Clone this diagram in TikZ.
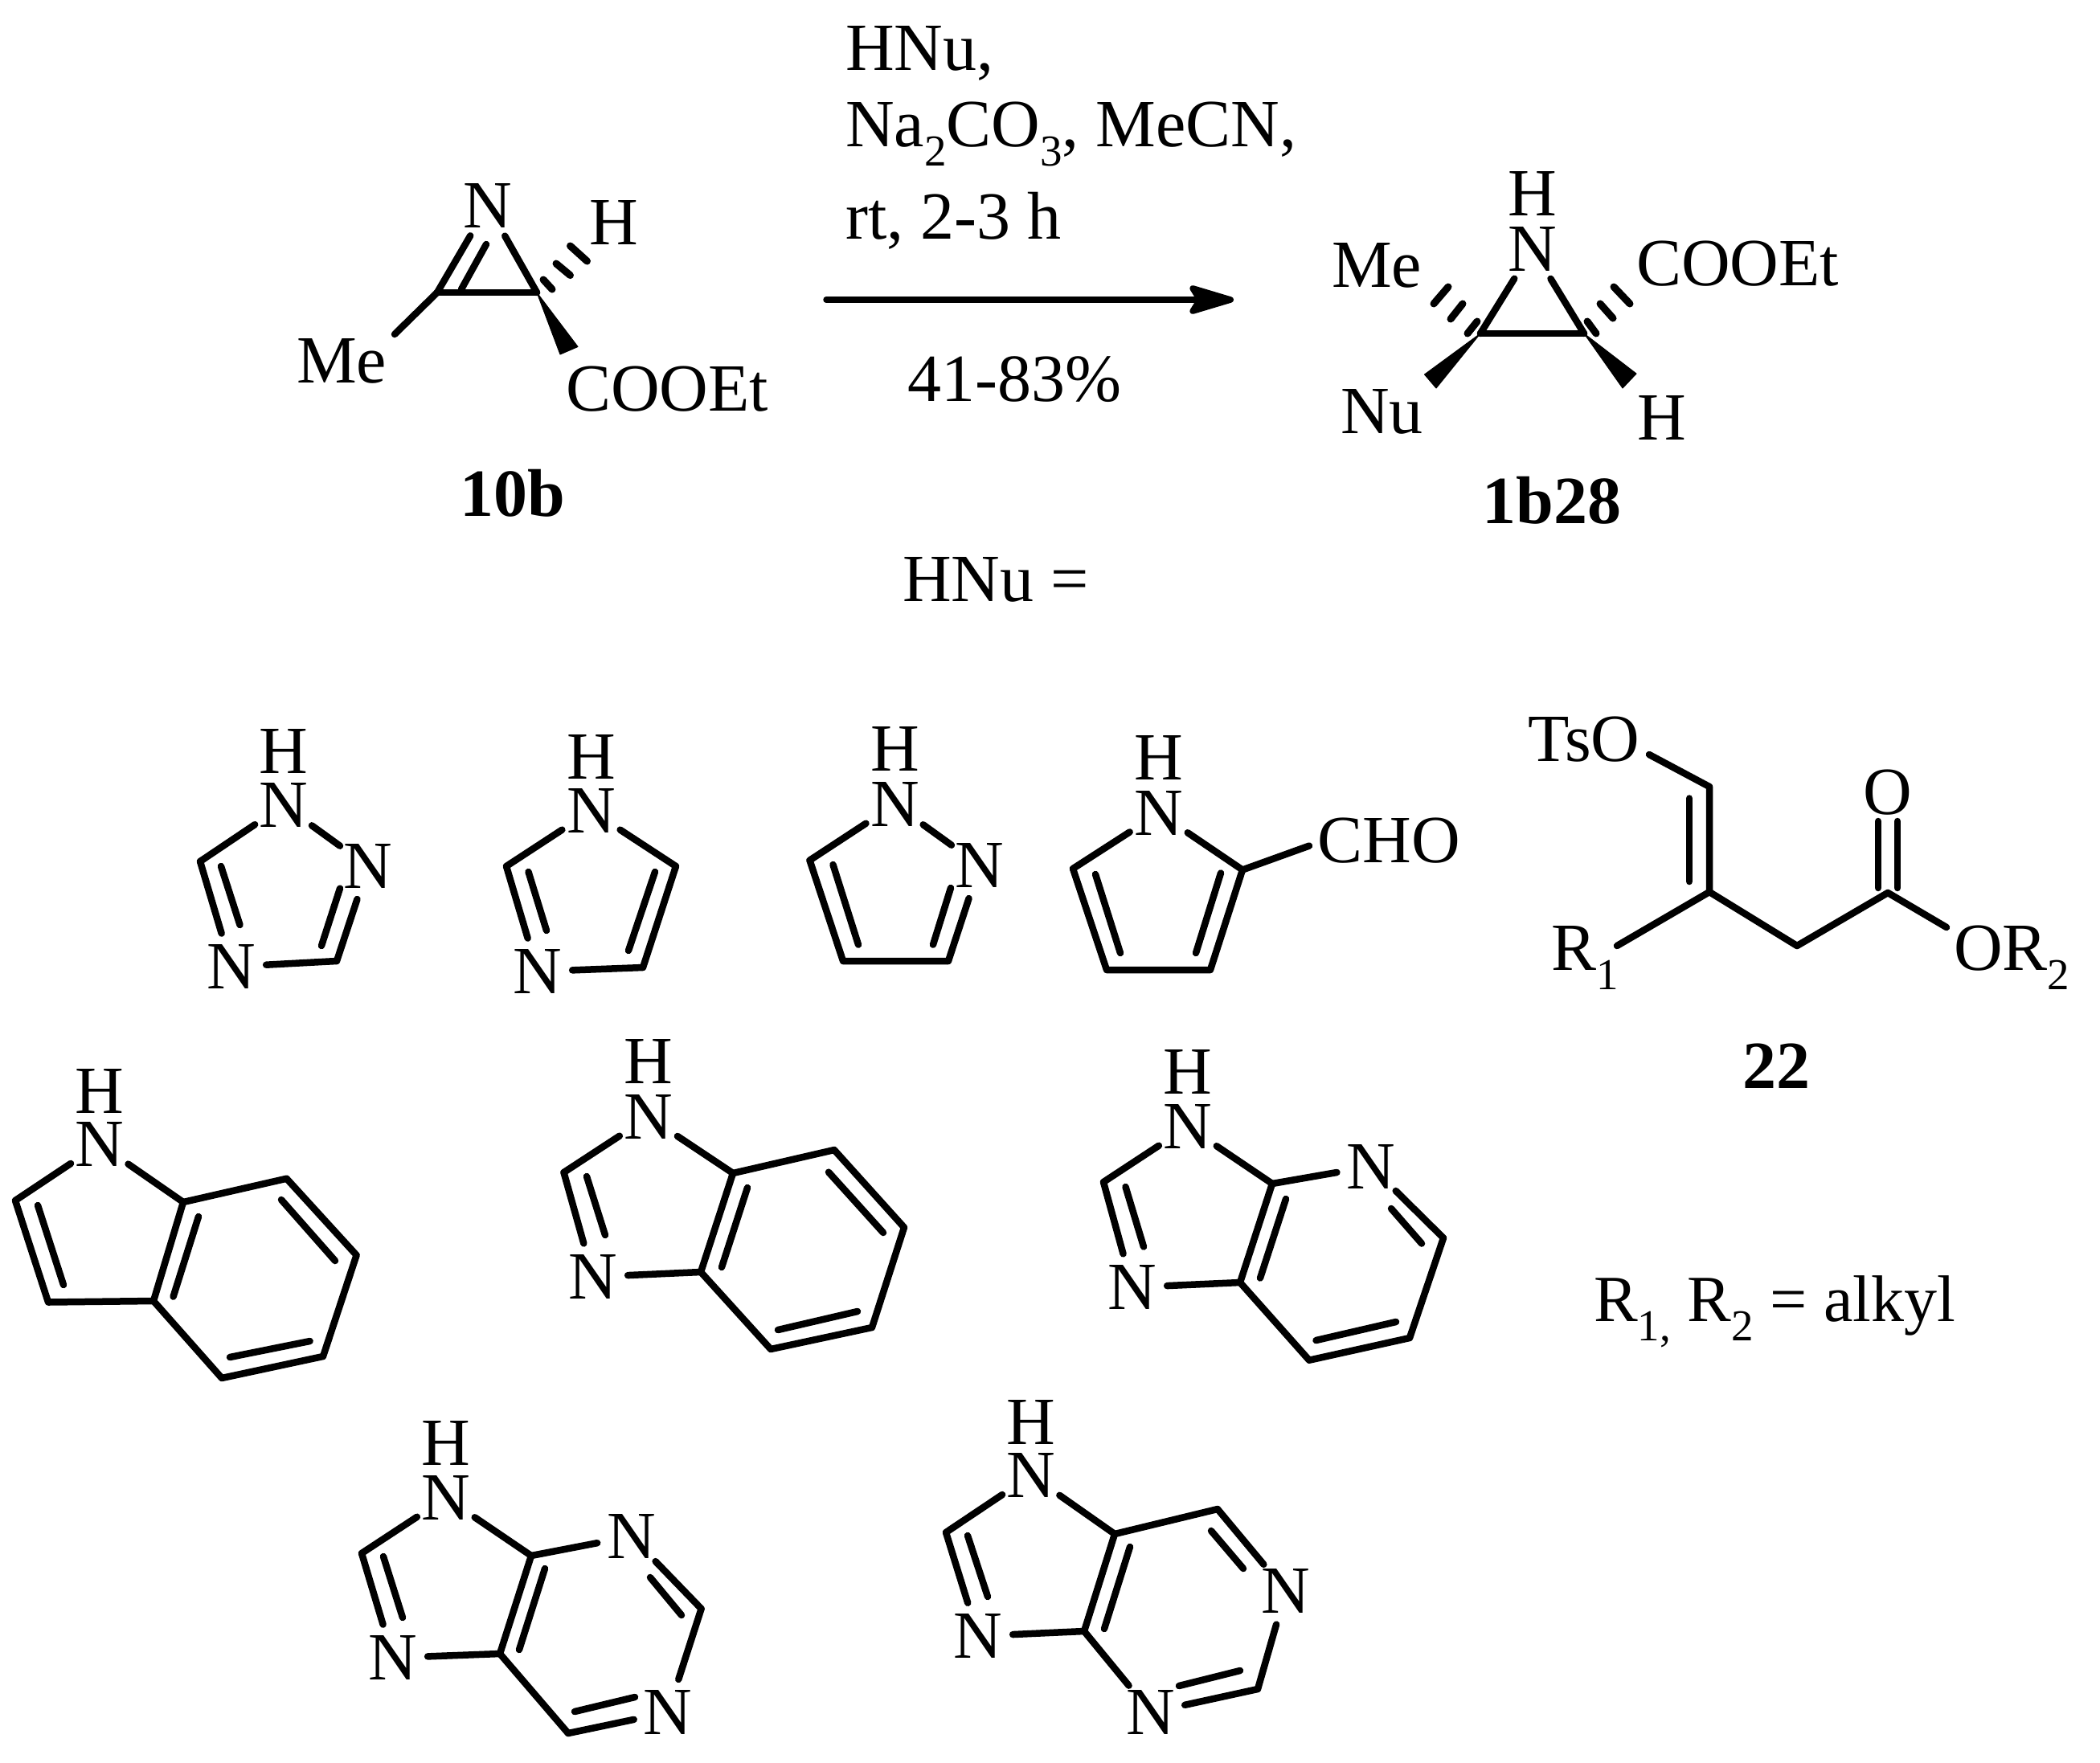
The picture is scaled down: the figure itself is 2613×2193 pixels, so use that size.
\documentclass[tikz,border=0pt]{standalone}
\usepackage{fontspec}
\setmainfont{Liberation Serif}
\usetikzlibrary{arrows.meta}
\newcommand{\subsc}[1]{\raisebox{-24pt}{\fontsize{55}{55}\selectfont #1}}
\tikzset{
  bond/.style={line width=8.5pt,line cap=round,line join=round,black},
  hashd/.style={line width=9pt,line cap=round,black},
  wedgeb/.style={fill=black,draw=black,line width=1pt,line join=round},
  atomhit/.style={circle,minimum size=86pt,inner sep=0pt},
  atomtxt/.style={inner sep=0pt,font=\fontsize{84}{90}\selectfont},
  lbl/.style={anchor=base,inner sep=0pt,font=\fontsize{84}{90}\selectfont},
  lbll/.style={anchor=base west,inner sep=0pt,font=\fontsize{84}{90}\selectfont},
  cpd/.style={anchor=base,inner sep=0pt,font=\fontsize{84}{90}\selectfont\bfseries},
  rxn/.style={line width=7.5pt,line cap=round,black,-{Stealth[length=68pt,width=40pt,inset=12pt,round]}}
}
% a ring nitrogen: an invisible round node that the bonds stop at, and its letter
\newcommand{\atomN}[2]{\node[atomhit] (#1) at (#2) {};\node[atomtxt] (#1t) at (#2) {N};}
\begin{document}
\begin{tikzpicture}[x=1pt,y=-1pt]
\useasboundingbox (0,0) rectangle (2613,2193);
% ---------- 10b
\coordinate (a1) at (544,364);
\coordinate (a2) at (668,364);
\coordinate (a3) at (491,416);
\atomN{aN}{607,256}
\node[lbl] (aH) at (764,304) {H};
\node[lbl] (aMe) at (425,476) {Me};
\node[lbl] (aCO) at (830,511) {COOEt};
\node[cpd] (aName) at (638,642) {10b};
\draw[bond] (a1) -- (aN);
\draw[bond] (574,360) -- (605,304);
\draw[bond] (aN) -- (a2);
\draw[bond] (a1) -- (a2);
\draw[bond] (a1) -- (a3);
\draw[hashd] (676,348) -- (687,360);
\draw[hashd] (692,328) -- (709.5,342.6);
\draw[hashd] (709.5,306) -- (730.5,325);
\fill[wedgeb] (a2) -- (719,431.5) -- (697,441) -- cycle;
% ---------- reaction
\node[lbll] (r1) at (1052,87) {HNu,};
\node[lbll] (r2) at (1052,182) {Na\subsc{2}CO\subsc{3}, MeCN,};
\node[lbll] (r3) at (1052,297) {rt, 2-3 h};
\coordinate (ar1) at (1028,373);
\coordinate (ar2) at (1535,373);
\draw[rxn] (ar1) -- (ar2);
\node[lbl] (r4) at (1262,499) {41-83\%};
\node[lbl] (r5) at (1239,748) {HNu =};
% ---------- 1b28
\coordinate (b1) at (1842,415);
\coordinate (b2) at (1971,415);
\atomN{bN}{1907,310}
\node[lbl] (bH) at (1907,268) {H};
\node[lbl] (bMe) at (1713,357) {Me};
\node[lbl] (bCO) at (2162,355) {COOEt};
\node[lbl] (bNu) at (1719.5,539) {Nu};
\node[lbl] (bH2) at (2068,547) {H};
\node[cpd] (bName) at (1931,651) {1b28};
\draw[bond] (b1) -- (bN);
\draw[bond] (b2) -- (bN);
\draw[bond] (b1) -- (b2);
\draw[hashd] (1802,357) -- (1784,378);
\draw[hashd] (1820,378) -- (1805,397);
\draw[hashd] (1838,400) -- (1826,415);
\draw[hashd] (2008,357) -- (2028,378);
\draw[hashd] (1991,378) -- (2007,396);
\draw[hashd] (1975,400) -- (1986,415);
\fill[wedgeb] (b1) -- (1772.5,466) -- (1787,483) -- cycle;
\fill[wedgeb] (b2) -- (2036,465) -- (2019,483) -- cycle;
% ---------- triazole
\coordinate (c1) at (249,1072);
\coordinate (c2) at (419,1196);
\atomN{cN1}{353,1002}
\node[lbl] (cH) at (353,962) {H};
\atomN{cN2}{288,1203}
\atomN{cN3}{458,1078}
\draw[bond] (cN1) -- (c1);
\draw[bond] (c1) -- (cN2);
\draw[bond] (275,1078) -- (298.5,1151);
\draw[bond] (cN2) -- (c2);
\draw[bond] (c2) -- (cN3);
\draw[bond] (400,1177) -- (423,1105.6);
\draw[bond] (cN3) -- (cN1);
% ---------- imidazole
\coordinate (d1) at (630,1078);
\coordinate (d2) at (800,1204);
\coordinate (d3) at (841,1078);
\atomN{dN1}{735.5,1009}
\node[lbl] (dH) at (735.5,969) {H};
\atomN{dN2}{669,1209}
\draw[bond] (dN1) -- (d1);
\draw[bond] (d1) -- (dN2);
\draw[bond] (657.5,1085) -- (680,1158);
\draw[bond] (dN2) -- (d2);
\draw[bond] (d2) -- (d3);
\draw[bond] (782,1183) -- (815,1085);
\draw[bond] (d3) -- (dN1);
% ---------- pyrazole
\coordinate (e1) at (1007.5,1070.6);
\coordinate (e2) at (1049,1196);
\coordinate (e3) at (1180,1196);
\atomN{eN1}{1113.6,1001}
\node[lbl] (eH) at (1113.6,959) {H};
\atomN{eN2}{1219,1077}
\draw[bond] (eN1) -- (e1);
\draw[bond] (e1) -- (e2) -- (e3);
\draw[bond] (1036.5,1076) -- (1068,1175.6);
\draw[bond] (e3) -- (eN2);
\draw[bond] (1161,1175.6) -- (1183,1105);
\draw[bond] (eN2) -- (eN1);
% ---------- pyrrole-2-carbaldehyde
\coordinate (f1) at (1335,1081);
\coordinate (f2) at (1377,1207);
\coordinate (f3) at (1506,1207);
\coordinate (f4) at (1546,1082.5);
\coordinate (f5) at (1629,1052.6);
\atomN{fN}{1442,1012}
\node[lbl] (fH) at (1442,970.5) {H};
\node[lbl] (fCHO) at (1728,1073) {CHO};
\draw[bond] (fN) -- (f1);
\draw[bond] (f1) -- (f2) -- (f3) -- (f4);
\draw[bond] (1363,1088) -- (1394,1186);
\draw[bond] (1488,1186) -- (1519,1086.5);
\draw[bond] (f4) -- (fN);
\draw[bond] (f4) -- (f5);
% ---------- compound 22
\coordinate (g0) at (2052,939);
\coordinate (g1) at (2127,979);
\coordinate (g2) at (2127,1110);
\coordinate (g3) at (2012,1177);
\coordinate (g4) at (2236,1177);
\coordinate (g5) at (2349,1111);
\coordinate (g6) at (2422,1154);
\node[lbl] (gTs) at (1971,947.6) {TsO};
\node[lbll] (gR) at (1930,1207) {R\subsc{1}};
\node[lbl] (gO) at (2349,1013.6) {O};
\node[lbll] (gOR) at (2431,1207) {OR\subsc{2}};
\node[cpd] (gName) at (2210,1354) {22};
\node[lbll,font=\fontsize{82}{90}\selectfont] (gNote) at (1983,1644) {R\subsc{1,} R\subsc{2} = alkyl};
\draw[bond] (g0) -- (g1) -- (g2) -- (g3);
\draw[bond] (2102,993.5) -- (2102,1097);
\draw[bond] (g2) -- (g4) -- (g5) -- (g6);
\draw[bond] (2337,1105) -- (2337,1022);
\draw[bond] (2361,1105) -- (2361,1022);
% ---------- indole
\coordinate (h1) at (19,1494);
\coordinate (h2) at (60,1620.5);
\coordinate (h3) at (191,1619);
\coordinate (h4) at (228,1496);
\coordinate (h5) at (356.6,1466.7);
\coordinate (h6) at (443.6,1562);
\coordinate (h7) at (402,1688);
\coordinate (h8) at (276,1715);
\atomN{hN}{124,1424}
\node[lbl] (hH) at (124,1385) {H};
\draw[bond] (hN) -- (h1);
\draw[bond] (h1) -- (h2) -- (h3) -- (h4);
\draw[bond] (h4) -- (hN);
\draw[bond] (h4) -- (h5) -- (h6) -- (h7) -- (h8) -- (h3);
\draw[bond] (47,1500) -- (79,1599);
\draw[bond] (215.6,1613.6) -- (247,1514);
\draw[bond] (350,1493) -- (417,1569);
\draw[bond] (385.6,1669) -- (286,1689);
% ---------- benzimidazole
\coordinate (i1) at (701.5,1459);
\coordinate (i2) at (872,1583);
\coordinate (i3) at (912,1460);
\coordinate (i4) at (1038,1431);
\coordinate (i5) at (1125,1527.5);
\coordinate (i6) at (1085,1652);
\coordinate (i7) at (959,1679);
\atomN{iN1}{807,1390}
\node[lbl] (iH) at (807,1348) {H};
\atomN{iN2}{738,1589}
\draw[bond] (iN1) -- (i1);
\draw[bond] (i1) -- (iN2);
\draw[bond] (730,1464) -- (753,1537);
\draw[bond] (iN2) -- (i2);
\draw[bond] (i2) -- (i3);
\draw[bond] (898,1577) -- (930,1478);
\draw[bond] (i3) -- (iN1);
\draw[bond] (i3) -- (i4) -- (i5) -- (i6) -- (i7) -- (i2);
\draw[bond] (1031,1458.7) -- (1099,1534);
\draw[bond] (1067,1632) -- (968,1655);
% ---------- imidazopyridine
\coordinate (j1) at (1373,1471);
\coordinate (j2) at (1543,1596);
\coordinate (j3) at (1583,1473);
\coordinate (j4) at (1796,1540.6);
\coordinate (j5) at (1754,1665);
\coordinate (j6) at (1629,1692.7);
\atomN{jN1}{1478,1402}
\node[lbl] (jH) at (1478,1361) {H};
\atomN{jN2}{1409,1602}
\atomN{jN3}{1706,1451.6}
\draw[bond] (jN1) -- (j1);
\draw[bond] (j1) -- (jN2);
\draw[bond] (1400.5,1477) -- (1423,1551.5);
\draw[bond] (jN2) -- (j2);
\draw[bond] (j2) -- (j3);
\draw[bond] (1568,1590.5) -- (1600,1492);
\draw[bond] (j3) -- (jN1);
\draw[bond] (j3) -- (jN3);
\draw[bond] (jN3) -- (j4);
\draw[bond] (1731,1504) -- (1769,1547.5);
\draw[bond] (j4) -- (j5) -- (j6) -- (j2);
\draw[bond] (1737,1645) -- (1637.5,1668);
% ---------- purine, left
\coordinate (k1) at (450,1933);
\coordinate (k2) at (622,2058);
\coordinate (k3) at (661,1936);
\coordinate (k4) at (872.6,2002);
\coordinate (k5) at (707,2157);
\atomN{kN1}{555,1864}
\node[lbl] (kH) at (555,1823) {H};
\atomN{kN2}{489,2063}
\atomN{kN3}{785.6,1912}
\atomN{kN4}{831,2131}
\draw[bond] (kN1) -- (k1);
\draw[bond] (k1) -- (kN2);
\draw[bond] (477,1937) -- (501,2013);
\draw[bond] (kN2) -- (k2);
\draw[bond] (k2) -- (k3);
\draw[bond] (646,2053) -- (678,1952);
\draw[bond] (k3) -- (kN1);
\draw[bond] (k3) -- (kN3);
\draw[bond] (kN3) -- (k4);
\draw[bond] (809,1963) -- (848,2010);
\draw[bond] (k4) -- (kN4);
\draw[bond] (kN4) -- (k5);
\draw[bond] (715,2130) -- (790,2112);
\draw[bond] (k5) -- (k2);
% ---------- purine, right
\coordinate (m1) at (1177,1907);
\coordinate (m2) at (1349,2030);
\coordinate (m3) at (1387,1909);
\coordinate (m4) at (1515,1878);
\coordinate (m5) at (1565,2102);
\atomN{mN1}{1283,1836}
\node[lbl] (mH) at (1283,1797) {H};
\atomN{mN2}{1217,2036}
\atomN{mN3}{1600,1980}
\atomN{mN4}{1432,2131}
\draw[bond] (mN1) -- (m1);
\draw[bond] (m1) -- (mN2);
\draw[bond] (1204,1911) -- (1229,1987);
\draw[bond] (mN2) -- (m2);
\draw[bond] (m2) -- (m3);
\draw[bond] (1374,2027) -- (1406,1925);
\draw[bond] (m3) -- (mN1);
\draw[bond] (m3) -- (m4);
\draw[bond] (m4) -- (mN3);
\draw[bond] (1507,1905) -- (1547,1952);
\draw[bond] (mN3) -- (m5);
\draw[bond] (m5) -- (mN4);
\draw[bond] (1543,2079) -- (1467,2098);
\draw[bond] (mN4) -- (m2);
\end{tikzpicture}
\end{document}
